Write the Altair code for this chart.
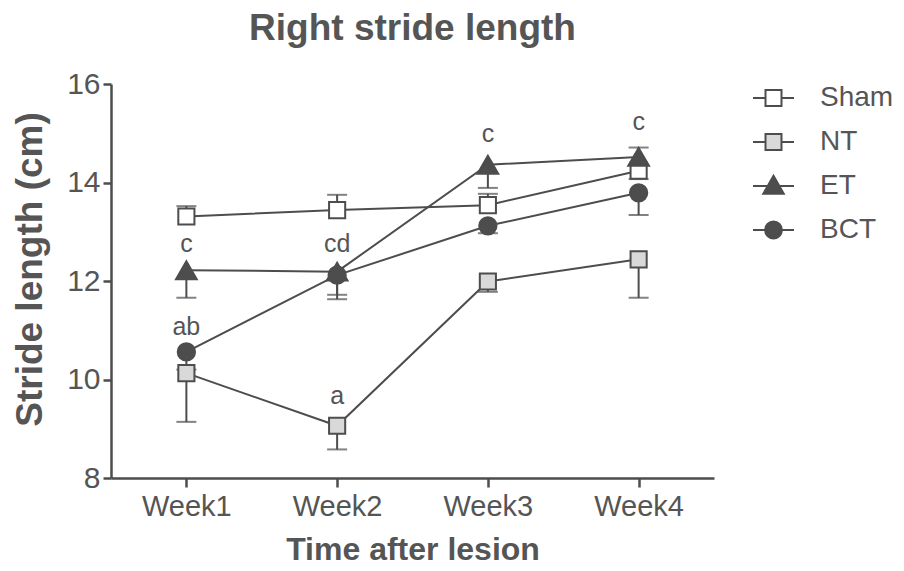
import altair as alt
import pandas as pd

weeks = ["Week1", "Week2", "Week3", "Week4"]
groups = ["Sham", "NT", "ET", "BCT"]

sham = [13.31, 13.44, 13.54, 14.24]
nt = [10.13, 9.06, 11.99, 12.44]
et = [12.22, 12.19, 14.36, 14.52]
bct = [10.56, 12.12, 13.12, 13.79]

# one-sided error bar end values (as drawn)
sham_end = [13.52, 13.75, 13.77, 14.07]
nt_end = [9.14, 8.58, 11.78, 11.66]
et_end = [11.66, 11.72, 13.89, 14.71]
bct_end = [10.20, 11.63, 12.97, 13.34]

ann_weeks = ["Week1", "Week2", "Week1", "Week2", "Week3", "Week4"]
ann_text = ["c", "cd", "ab", "a", "c", "c"]
ann_y = [12.59, 12.59, 10.90, 9.50, 14.82, 15.07]

rows = []
for g, means, ends in zip(groups, [sham, nt, et, bct], [sham_end, nt_end, et_end, bct_end]):
    for w, m, e in zip(weeks, means, ends):
        rows.append({"group": g, "week": w, "mean": m, "end": e})
df = pd.DataFrame(rows)
ann = pd.DataFrame({"week": ann_weeks, "label": ann_text, "y": ann_y})

C = "#4d4d4d"
T = "#555555"
FONT = "Liberation Sans"
fills = ["#ffffff", "#d9d9d9", C, C]

xaxis = alt.Axis(title="Time after lesion", labelAngle=0, tickSize=9, labelPadding=5,
                 labelFontSize=29, titleFontSize=32, titleFontWeight="bold", titlePadding=13)
yaxis = alt.Axis(title="Stride length (cm)", values=[8, 10, 12, 14, 16], tickSize=8,
                 labelFontSize=30, labelPadding=3, titleFontSize=37, titleFontWeight="bold",
                 titleX=-62, titleY=185, titleBaseline="bottom")
xs = alt.Scale(type="point", padding=0.5, domain=weeks)
ys = alt.Scale(domain=[8, 16], nice=False, zero=False)

X = alt.X("week:N", sort=weeks, scale=xs, axis=xaxis)
Y = alt.Y("mean:Q", scale=ys, axis=yaxis)

base = alt.Chart(df)

err_rule = base.mark_rule(color=C, strokeWidth=2).encode(
    x=X, y=Y, y2=alt.Y2("end:Q"))
err_cap = base.mark_tick(color=C, size=20, thickness=2).encode(
    x=X, y=alt.Y("end:Q", scale=ys, axis=yaxis))

lines = base.mark_line(color=C, strokeWidth=2).encode(
    x=X, y=Y, detail="group:N")


def marker(group, shape, fill, size):
    return base.transform_filter(alt.datum.group == group).mark_point(
        shape=shape, filled=True, fill=fill, stroke=C, strokeWidth=2, opacity=1, size=size
    ).encode(x=X, y=Y)


pts = [
    marker("Sham", "square", fills[0], 260),
    marker("NT", "square", fills[1], 260),
    marker("ET", "triangle-up", fills[2], 430),
    marker("BCT", "circle", fills[3], 300),
]

legend_paths = [
    "M-1,0H-0.39M0.39,0H1M-0.39,-0.39H0.39V0.39H-0.39Z",
    "M-1,0H-0.39M0.39,0H1M-0.39,-0.39H0.39V0.39H-0.39Z",
    "M-1,0H-0.3M0.3,0H1M0,-0.5L0.5,0.38L-0.5,0.38Z",
    "M-1,0H-0.41M0.41,0H1M0.41,0A0.41,0.41,0,1,1,-0.41,0A0.41,0.41,0,1,1,0.41,0Z",
]
leg = alt.Legend(
    title=None, orient="none", legendX=641, legendY=-7.5, symbolSize=1681,
    labelFontSize=28, labelFont=FONT, labelColor=T, labelOffset=25,
    rowPadding=8, padding=0, symbolOpacity=1, symbolStrokeColor=C, symbolStrokeWidth=2,
)
legend_layer = base.mark_point(filled=True, opacity=0, strokeWidth=2).encode(
    x=X, y=Y,
    shape=alt.Shape("group:N", sort=groups, scale=alt.Scale(domain=groups, range=legend_paths), legend=leg),
    fill=alt.Fill("group:N", sort=groups, scale=alt.Scale(domain=groups, range=fills), legend=leg),
    stroke=alt.Stroke("group:N", sort=groups, scale=alt.Scale(domain=groups, range=[C, C, C, C]), legend=leg),
)

texts = alt.Chart(ann).mark_text(font=FONT, fontSize=25, color=T, baseline="alphabetic").encode(
    x=alt.X("week:N", sort=weeks, scale=xs, axis=xaxis),
    y=alt.Y("y:Q", scale=ys, axis=yaxis),
    text="label:N",
)

chart = alt.layer(err_rule, err_cap, lines, *pts, texts, legend_layer).properties(
    width=603, height=394,
    title=alt.Title("Right stride length", fontSize=37, font=FONT, fontWeight="bold",
                    color=T, anchor="middle", offset=21),
    autosize=alt.AutoSizeParams(type="none"),
    padding={"left": 103, "top": 76, "right": 182, "bottom": 85},
).configure_view(stroke=None).configure_axis(
    domainColor=C, domainWidth=2.5, tickColor=C, tickWidth=2.5,
    labelColor=T, titleColor=T, labelFont=FONT, titleFont=FONT, grid=False,
)

chart.save("out.html", embed_options={"renderer": "svg", "actions": False})
